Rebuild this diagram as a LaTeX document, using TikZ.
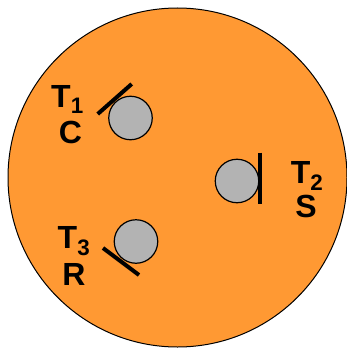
\documentclass[tikz,border=0pt]{standalone}
\usepackage{fontspec}
\setmainfont{Liberation Sans}
\definecolor{plateorange}{HTML}{FF9933}
\definecolor{holegray}{HTML}{B3B3B3}
\newcommand{\tsub}[1]{T\textsubscript{#1}}

\begin{document}
\begin{tikzpicture}[x=1pt,y=-1pt,
  hole/.style={circle,draw,line width=1.2pt,fill=holegray,minimum size=43.5pt,inner sep=0pt},
  bar/.style={line width=4pt},
  lbl/.style={font=\fontsize{32}{36}\selectfont\bfseries,inner sep=0pt,anchor=base}]
\useasboundingbox (0,0) rectangle (347,353);
% plate
\draw[line width=1pt,fill=plateorange] (177.5,177.5) circle[radius=169.5];
% holes with their bars
\node[hole] (hole1) at (130.5,118) {};
\node[hole] (hole2) at (237,181) {};
\node[hole] (hole3) at (136,241.5) {};
\draw[bar] (97.7,114) -- (131.7,84);
\draw[bar] (260,152.7) -- (260,204);
\draw[bar] (103,248) -- (139,275);
% labels
\node[lbl] (t1) at (67.5,107) {\tsub{1}};
\node[lbl] (c) at (70.5,143) {C};
\node[lbl] (t2) at (307,183) {\tsub{2}};
\node[lbl] (s) at (306,217) {S};
\node[lbl] (t3) at (74,248) {\tsub{3}};
\node[lbl] (r) at (74,285) {R};
\end{tikzpicture}
\end{document}
